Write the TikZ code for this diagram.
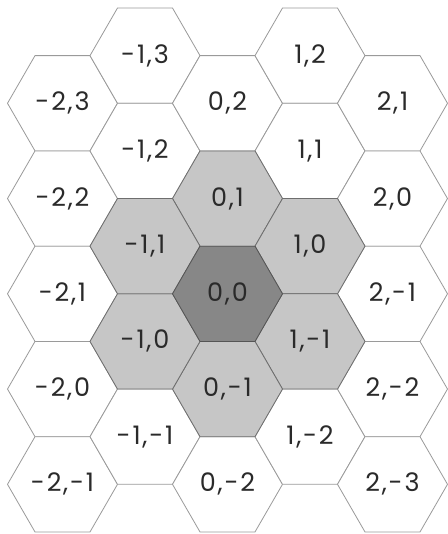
\documentclass[tikz,border=0pt]{standalone}
\usepackage{fontspec}
\setmainfont{Poppins}[LetterSpace=7]
\usetikzlibrary{shapes.geometric}
\definecolor{hexline}{HTML}{9A9A9A}
\definecolor{ringfill}{HTML}{C6C6C6}
\definecolor{ringline}{HTML}{6E6E6E}
\definecolor{centerfill}{HTML}{878787}
\definecolor{centerline}{HTML}{555555}
\definecolor{labeltext}{HTML}{2A2A2A}
\tikzset{
  hexcell/.style={regular polygon, regular polygon sides=6,
    minimum size=110pt, inner sep=0pt, outer sep=0pt,
    draw=hexline, fill=white, line width=0.8pt,
    text=labeltext, font=\fontsize{25.5}{25.5}\selectfont},
  ring/.style={hexcell, draw=ringline, fill=ringfill},
  center/.style={hexcell, draw=centerline, fill=centerfill},
}

\begin{document}
\begin{tikzpicture}[x={(82.5pt,47.63pt)}, y={(0pt,95.26pt)}]

  \useasboundingbox (-227.5pt,-240.2pt) rectangle (219.5pt,293.8pt);

  % Outer cells
  \foreach \q/\r in {-2/3, -2/2, -2/1, -2/0, -2/-1,
                     -1/3, -1/2, -1/-1,
                      0/2, 0/-2,
                      1/2, 1/1, 1/-2,
                      2/1, 2/0, 2/-1, 2/-2, 2/-3}
    \node[hexcell] (h\q\r) at (\q,\r) {\q,\r};

  % First ring
  \foreach \q/\r in {0/1, 1/0, 1/-1, 0/-1, -1/0, -1/1}
    \node[ring] (h\q\r) at (\q,\r) {\q,\r};

  % Origin
  \node[center] (h00) at (0,0) {0,0};

\end{tikzpicture}
\end{document}
